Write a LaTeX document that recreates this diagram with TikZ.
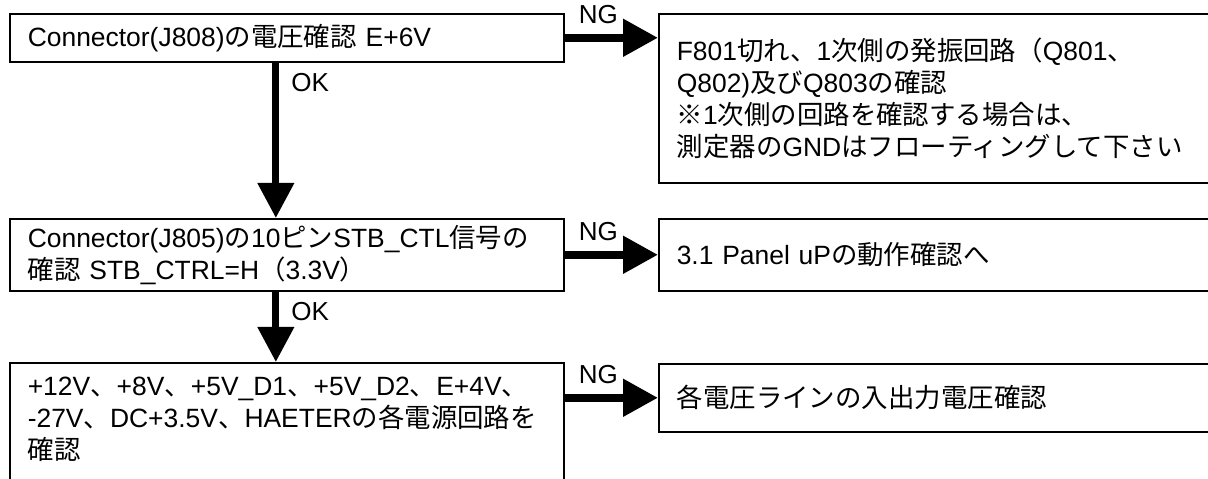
\documentclass[tikz,border=0pt]{standalone}
\usepackage{fontspec}
\setmainfont{Liberation Sans}
\newfontfamily\jpfont{Noto Sans CJK JP}
\newcommand\jt[1]{{\jpfont #1}}
\usetikzlibrary{arrows.meta, positioning}

\begin{document}
\begin{tikzpicture}[
  x=0.025cm, y=-0.025cm,
  box/.style      = {rectangle, draw, line width=1.1pt, anchor=north west,
                     inner xsep=0.45cm, inner ysep=0, align=left,
                     font=\fontsize{18.8}{22.8}\selectfont},
  leftbox/.style  = {box, text width=12.95cm, minimum width=13.85cm},
  rightbox/.style = {box, text width=13.65cm, minimum width=14.55cm},
  ngarrow/.style  = {line width=0.2cm, -{Triangle[length=0.875cm, width=0.9cm]}},
  okarrow/.style  = {line width=0.18cm, -{Triangle[length=0.875cm, width=0.875cm]}},
  lbl/.style      = {inner sep=0, font=\fontsize{18.5}{22.7}\selectfont},
]
\useasboundingbox (0,0) rectangle (1208,479);
\clip (0,0) rectangle (1208,479);
% ── checks (left column) ──
\node[leftbox, minimum height=1.2cm] (chkJ808) at (9,13)
  {Connector(J808)\jt{の電圧確認} E+6V};
\node[leftbox, minimum height=1.8cm] (chkJ805) at (9,218)
  {Connector(J805)\jt{の}10\jt{ピン}STB\_CTL\jt{信号の}\\
   \jt{確認} STB\_CTRL=H\jt{（}3.3V\jt{）}};
\node[leftbox, inner ysep=0.35cm, text depth=3cm] (chkRails) at (9,362)
  {+12V\jt{、}+8V\jt{、}+5V\_D1\jt{、}+5V\_D2\jt{、}E+4V\jt{、}\\
   -27V\jt{、}DC+3.5V\jt{、}HAETER\jt{の各電源回路を}\\
   \jt{確認}};
% ── fixes (right column) ──
\node[rightbox, minimum height=4.225cm] (fixF801) at (658,13)
  {F801\jt{切れ、}1\jt{次側の発振回路（}Q801\jt{、}\\
   Q802)\jt{及び}Q803\jt{の確認}\\
   \jt{※}1\jt{次側の回路を確認する場合は、}\\
   \jt{測定器の}GND\jt{はフローティングして下さい}};
\node[rightbox, minimum height=1.8cm] (fixPanel) at (658,218)
  {3.1 Panel uP\jt{の動作確認へ}};
\node[rightbox, minimum height=1.7cm] (fixRails) at (658,363)
  {\jt{各電圧ラインの入出力電圧確認}};
% ── NG branches ──
\draw[ngarrow] (chkJ808.east) -- (chkJ808.east -| fixF801.west)
  node[lbl, pos=0.36, above=0.25cm] (ngJ808) {NG};
\draw[ngarrow] (chkJ805.east) -- (chkJ805.east -| fixPanel.west)
  node[lbl, pos=0.36, above=0.25cm] (ngJ805) {NG};
\draw[ngarrow] (chkRails.east |- fixRails.west) -- (fixRails.west)
  node[lbl, pos=0.36, above=0.25cm] (ngRails) {NG};
% ── OK flow ──
\draw[okarrow] ([xshift=-0.275cm]chkJ808.south) -- ([xshift=-0.275cm]chkJ805.north)
  node[lbl, pos=0, anchor=north west, xshift=0.3cm, yshift=-0.175cm] (okJ808) {OK};
\draw[okarrow] ([xshift=-0.275cm]chkJ805.south) -- ([xshift=-0.275cm]chkRails.north)
  node[lbl, pos=0, anchor=north west, xshift=0.3cm, yshift=-0.175cm] (okJ805) {OK};
\end{tikzpicture}
\end{document}
